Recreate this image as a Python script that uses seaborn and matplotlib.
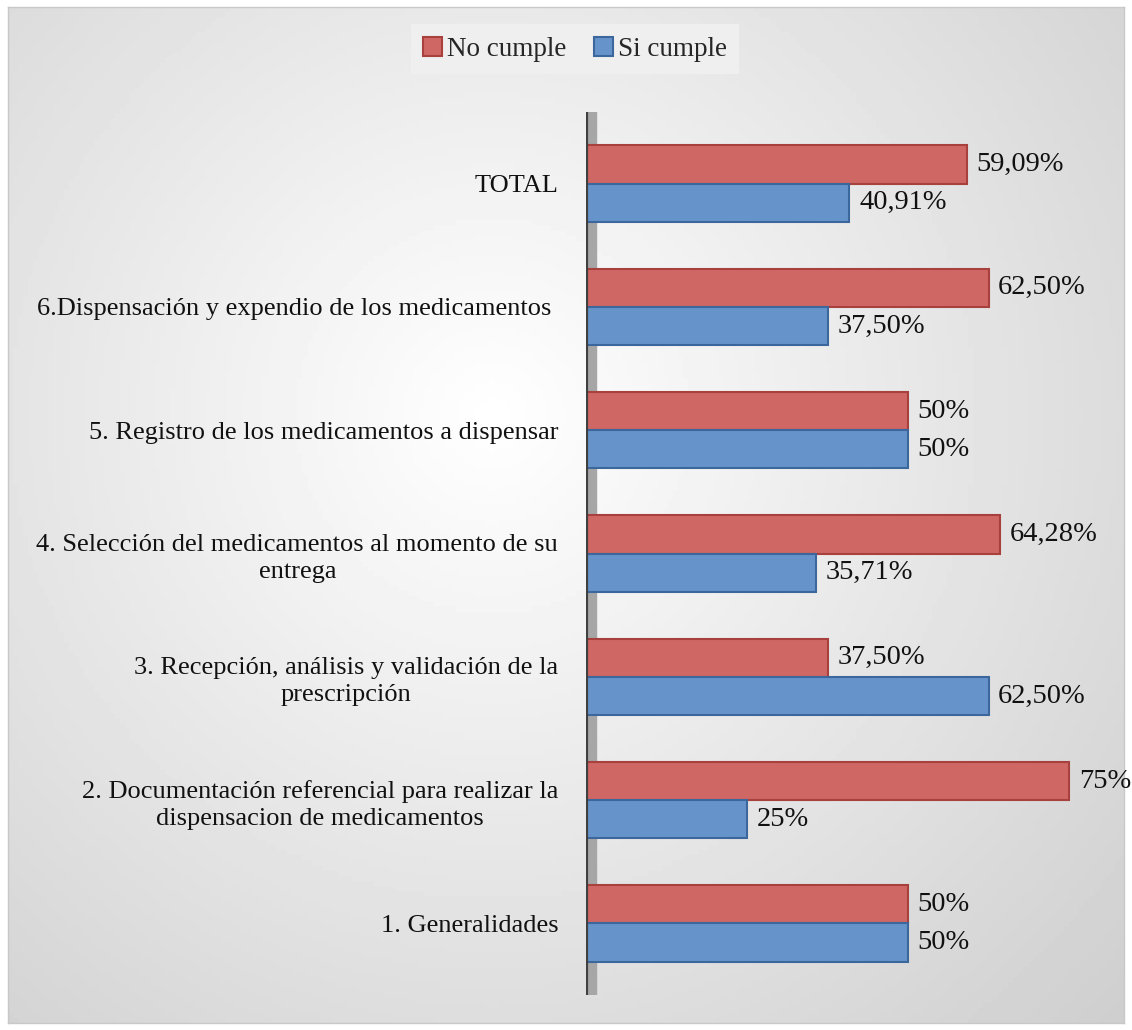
import numpy as np
import pandas as pd
import matplotlib
matplotlib.use("Agg")
import matplotlib.pyplot as plt
import seaborn as sns
from matplotlib.patches import Patch

categories = [
    "TOTAL",
    "6.Dispensación y expendio de los medicamentos ",
    "5. Registro de los medicamentos a dispensar",
    "4. Selección del medicamentos al momento de su\nentrega",
    "3. Recepción, análisis y validación de la\nprescripción",
    "2. Documentación referencial para realizar la\ndispensacion de medicamentos",
    "1. Generalidades",
]
no_cumple = [59.09, 62.50, 50, 64.28, 37.50, 75, 50]
si_cumple = [40.91, 37.50, 50, 35.71, 62.50, 25, 50]
no_labels = ["59,09%", "62,50%", "50%", "64,28%", "37,50%", "75%", "50%"]
si_labels = ["40,91%", "37,50%", "50%", "35,71%", "62,50%", "25%", "50%"]
series = ["No cumple", "Si cumple"]

df = pd.DataFrame({
    "cat": categories * 2,
    "val": no_cumple + si_cumple,
    "serie": [series[0]] * len(categories) + [series[1]] * len(categories),
})

sns.set_theme(style="white")
plt.rcParams["font.family"] = ["Liberation Serif", "DejaVu Serif"]

W, H = 1132, 1030
fig = plt.figure(figsize=(W / 100, H / 100), dpi=100)

# background with radial gradient
bg = fig.add_axes([0.007, 0.007, 0.986, 0.986], zorder=0)
yy, xx = np.mgrid[0:200, 0:220]
cx, cy = 95, 80
r = np.sqrt(((xx - cx) / 150.0) ** 2 + ((yy - cy) / 150.0) ** 2)
shade = 1.0 - 0.2 * np.clip(r, 0, 1.2) / 1.2
bg.imshow(shade, cmap="gray", vmin=0, vmax=1, aspect="auto", extent=[0, 1, 0, 1], origin="upper")
bg.set_xticks([]); bg.set_yticks([])
for s in bg.spines.values():
    s.set_color("#c8c8c8"); s.set_linewidth(1.0)

left = 586 / W
right = 1100 / W
top_px, bot_px = 112, 995
ax = fig.add_axes([left, 1 - bot_px / H, right - left, (bot_px - top_px) / H], zorder=1)
ax.patch.set_alpha(0)

colors = {"No cumple": "#cf6764", "Si cumple": "#6693c9"}
edges = {"No cumple": "#a8403d", "Si cumple": "#3c679c"}
sns.barplot(data=df, y="cat", x="val", hue="serie", order=categories,
            hue_order=series, palette=colors, width=0.62, orient="h",
            ax=ax, legend=False, saturation=1)

for cont, s in zip(ax.containers, series):
    for bar in cont:
        bar.set_edgecolor(edges[s]); bar.set_linewidth(1.5)

xmax = (1100 - 586) / 6.44
ax.set_xlim(0, xmax)
ax.set_ylim(6.58, -0.58)

# depth wall for the axis
ax.axvspan(0, 1.5, color="#a6a6a6", zorder=0)
ax.axvline(0, color="#404040", lw=3, zorder=3)

for cont, labs in zip(ax.containers, [no_labels, si_labels]):
    ax.bar_label(cont, labels=labs, padding=7, fontsize=20.5, color="#111111")

ax.set_xticks([])
ax.set_xlabel(""); ax.set_ylabel("")
ax.tick_params(axis="y", length=0, pad=20, labelsize=19, labelcolor="#111111")
for t in ax.get_yticklabels():
    t.set_multialignment("center")
    t.set_linespacing(1.3)
for s in ax.spines.values():
    s.set_visible(False)

handles = [Patch(facecolor=colors[s], edgecolor=edges[s], linewidth=1.5, label=s) for s in series]
leg = fig.legend(handles=handles, loc="center", bbox_to_anchor=(575 / W, 1 - 49 / H),
                 ncol=2, fontsize=19.5, frameon=True, fancybox=False,
                 handlelength=0.7, handleheight=0.7, handletextpad=0.2,
                 columnspacing=1.0, borderpad=0.45)
leg.get_frame().set_facecolor("#efefef")
leg.get_frame().set_edgecolor("none")
leg.get_frame().set_alpha(1)

fig.savefig("out.png", dpi=100)
